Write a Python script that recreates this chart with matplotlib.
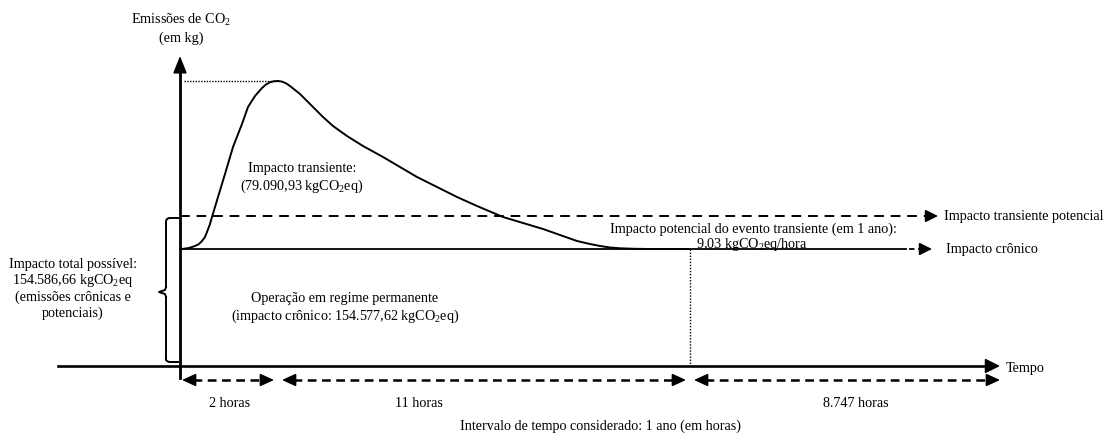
import matplotlib
matplotlib.use("Agg")
import matplotlib.pyplot as plt

plt.rcParams['font.family'] = ['Liberation Serif', 'DejaVu Serif']
plt.rcParams['mathtext.fontset'] = 'custom'
plt.rcParams['mathtext.rm'] = 'Liberation Serif'

# ---- schematic data (diagram units, y grows downward) ----
curve_x = [182, 189, 195, 199, 202, 205, 207, 210, 212, 215, 218, 225, 233, 242, 248,
           255, 262, 266, 270, 274, 278, 282, 286, 290, 300, 310, 323, 333, 347, 363, 383, 400,
           417, 437, 457, 477, 503, 523, 543, 560, 577, 590, 600, 610, 620, 635, 650, 690]
curve_y = [250, 249, 247, 245, 242, 238, 233, 225, 218, 208, 198, 175, 148, 125, 108,
           97, 89, 85.5, 83.3, 82.2, 82, 82.6, 84.3, 87, 95, 105, 118, 127, 137, 147, 158, 168,
           178, 188, 198, 207, 218, 224, 230, 236, 242, 245, 247, 248.5, 249.3, 249.8, 250, 250]
chronic_level = 250
potential_level = 217
peak_level = 82
baseline = 367
origin_x = 180
segment_bounds = [182, 278, 690, 1000]
segment_labels = ["2 horas", "11 horas", "8.747 horas"]
segment_label_x = [230, 419, 856]

fig = plt.figure(figsize=(11.1, 4.35), dpi=100)
ax = fig.add_axes([0, 0, 1, 1])
ax.set_xlim(0, 1110)
ax.set_ylim(435, 0)
ax.axis('off')

FS = 10.2
PX = 72.0 / 100.0  # points per pixel


def arrow(x0, y0, x1, y1, hl=12, hw=12, lw=1.0):
    style = '-|>,head_length=%.2f,head_width=%.2f' % (hl * PX, hw / 2 * PX)
    ax.annotate('', xy=(x1, y1), xytext=(x0, y0),
                arrowprops=dict(arrowstyle=style, color='black', lw=lw,
                                mutation_scale=1, shrinkA=0, shrinkB=0,
                                joinstyle='miter'))


# axes
ax.plot([58, 990], [baseline, baseline], color='black', lw=1.9)
arrow(985, baseline, 1000, baseline, hl=13, hw=13, lw=1.0)
ax.plot([origin_x, origin_x], [379, 70], color='black', lw=2.0)
arrow(origin_x, 76, origin_x, 57, hl=15, hw=12, lw=1.0)

# chronic line
ax.plot([origin_x, 906], [chronic_level, chronic_level], color='black', lw=1.3)
ax.plot([909, 921], [chronic_level, chronic_level], color='black', lw=1.3, ls=(0, (3, 2)))
arrow(920, chronic_level, 932, chronic_level, hl=11, hw=11, lw=1.0)

# potential line (dashed)
ax.plot([origin_x, 926], [potential_level, potential_level], color='black', lw=1.4,
        ls=(0, (5, 3.5)))
arrow(926, potential_level, 938, potential_level, hl=11, hw=11, lw=1.0)

# curve
ax.plot(curve_x, curve_y, color='black', lw=1.4, solid_capstyle='round',
        solid_joinstyle='round')

# peak dotted line
ax.plot([origin_x + 4, 277], [peak_level, peak_level], color='black', lw=1.0, ls=(0, (1, 1)))
# vertical dotted
ax.plot([690, 690], [chronic_level, baseline], color='black', lw=1.0, ls=(0, (1, 1.2)))

# brace
bx = 166
blw = 1.4
ax.plot([bx + 12, bx + 3, bx + 1, bx, bx], [219, 219, 220, 222, 224], color='black', lw=blw)
ax.plot([bx, bx], [224, 288], color='black', lw=blw)
ax.plot([bx, bx - 1, bx - 7, bx - 1, bx], [288, 291, 293, 295, 298], color='black', lw=blw)
ax.plot([bx, bx], [298, 359], color='black', lw=blw)
ax.plot([bx, bx, bx + 1, bx + 3, bx + 12], [359, 361, 362, 363, 363], color='black', lw=blw)

# dimension arrows
dim_y = 381
for i in range(3):
    a, b = segment_bounds[i], segment_bounds[i + 1]
    if i > 0:
        a += 4
    if i < 2:
        b -= 4
    ax.plot([a + 11, b - 11], [dim_y, dim_y], color='black', lw=1.8, ls=(0, (3.5, 2.2)))
    arrow(a + 12, dim_y, a, dim_y, hl=12, hw=11, lw=1.0)
    arrow(b - 12, dim_y, b, dim_y, hl=12, hw=11, lw=1.0)
    ax.text(segment_label_x[i], 404, segment_labels[i], fontsize=FS, ha='center', va='center')

# texts
ax.text(181, 20, r'Emissões de CO$_2$', fontsize=FS, ha='center', va='center')
ax.text(181, 38, '(em kg)', fontsize=FS, ha='center', va='center')
ax.text(302, 169, 'Impacto transiente:', fontsize=FS, ha='center', va='center')
ax.text(302, 186, r'(79.090,93 kgCO$_2$eq)', fontsize=FS, ha='center', va='center')
ax.text(345, 299, 'Operação em regime permanente', fontsize=FS, ha='center', va='center')
ax.text(345, 316, r'(impacto crônico: 154.577,62 kgCO$_2$eq)', fontsize=FS, ha='center', va='center')
ax.text(753, 229, 'Impacto potencial do evento transiente (em 1 ano):', fontsize=FS, ha='center', va='center')
ax.text(752, 245, r'9,03 kgCO$_2$eq/hora', fontsize=FS, ha='center', va='center')
ax.text(944, 217, 'Impacto transiente potencial', fontsize=FS, ha='left', va='center')
ax.text(946, 250, 'Impacto crônico', fontsize=FS, ha='left', va='center')
ax.text(1006, 369, 'Tempo', fontsize=FS, ha='left', va='center')
ax.text(73, 265, 'Impacto total possível:', fontsize=FS, ha='center', va='center')
ax.text(73, 281, r'154.586,66 kgCO$_2$eq', fontsize=FS, ha='center', va='center')
ax.text(73, 297, '(emissões crônicas e', fontsize=FS, ha='center', va='center')
ax.text(73, 313, 'potenciais)', fontsize=FS, ha='center', va='center')
ax.text(601, 426, 'Intervalo de tempo considerado: 1 ano (em horas)', fontsize=FS,
        ha='center', va='center')

fig.savefig('out.png', dpi=100)
